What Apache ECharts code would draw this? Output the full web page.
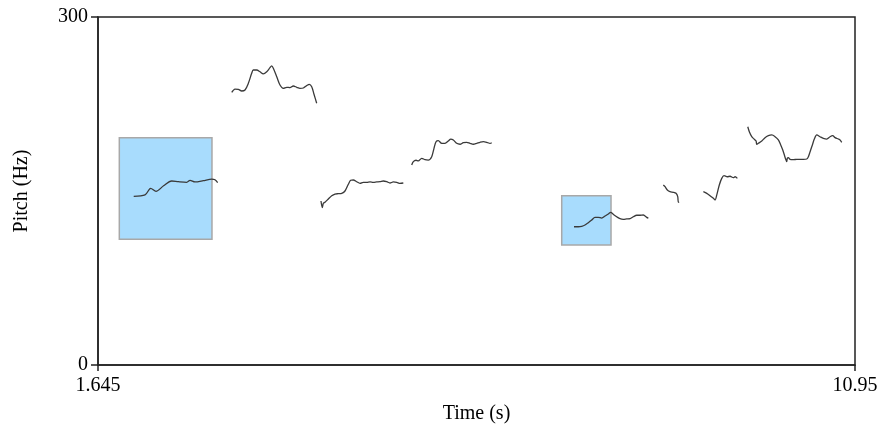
<!DOCTYPE html>
<html>
<head>
<meta charset="utf-8">
<script src="https://cdn.jsdelivr.net/npm/echarts@6/dist/echarts.min.js"></script>
<style>
html,body{margin:0;padding:0;background:#fff;}
#chart{width:883px;height:425px;}
</style>
</head>
<body>
<div id="chart"></div>
<script>
// Axis ranges and tick labels
const xRange = [1.645, 10.95];
const yRange = [0, 300];
const xTickLabels = ['1.645', '10.95'];
const yTickLabels = ['0', '300'];
const xTitle = 'Time (s)';
const yTitle = 'Pitch (Hz)';

// Highlighted regions: [tStart, tEnd, fLow, fHigh]
const boxes = [
  [1.907, 3.046, 108.4, 195.9],
  [7.345, 7.951, 103.4, 146.0]
];

// Pitch contours: [time (s), pitch (Hz)]
const contour1 = [[2.084,145.4],[2.223,146.6],[2.293,152.3],[2.358,149.7],[2.451,154.5],[2.551,158.6],[2.632,158.0],[2.735,157.5],[2.776,159.2],[2.837,157.8],[2.939,158.9],[3.043,160.3],[3.083,159.7],[3.116,157.2]];
const contour2 = [[3.289,235.1],[3.329,237.9],[3.370,237.7],[3.411,236.2],[3.452,237.1],[3.493,242.8],[3.534,251.5],[3.554,254.3],[3.596,254.3],[3.636,252.8],[3.677,250.9],[3.719,252.8],[3.759,256.3],[3.780,257.8],[3.800,255.8],[3.842,248.5],[3.882,241.4],[3.923,238.5],[3.965,239.4],[4.005,239.1],[4.046,240.5],[4.088,239.4],[4.128,238.5],[4.169,238.8],[4.210,240.8],[4.242,242.0],[4.272,239.9],[4.300,233.4],[4.333,225.6]];
const contour3 = [[4.386,141.4],[4.402,135.6],[4.415,139.4],[4.435,140.3],[4.476,143.1],[4.518,145.9],[4.558,147.4],[4.599,147.7],[4.641,148.0],[4.681,150.0],[4.722,155.8],[4.751,159.2],[4.783,159.5],[4.825,158.0],[4.866,156.6],[4.906,157.5],[4.948,157.5],[4.989,157.8],[5.029,157.5],[5.071,157.8],[5.111,158.0],[5.152,158.6],[5.194,158.0],[5.234,156.9],[5.275,157.8],[5.317,157.5],[5.357,156.6],[5.398,156.9]];
const contour4 = [[5.501,172.4],[5.521,175.3],[5.554,176.5],[5.582,175.9],[5.624,178.2],[5.665,177.0],[5.705,176.7],[5.747,179.6],[5.775,186.8],[5.800,192.5],[5.828,193.4],[5.870,191.1],[5.910,191.1],[5.951,193.1],[5.981,194.8],[6.013,194.0],[6.054,191.1],[6.095,190.3],[6.135,191.6],[6.177,192.0],[6.218,191.1],[6.258,190.3],[6.300,191.1],[6.341,192.0],[6.381,192.5],[6.423,192.0],[6.464,191.1],[6.485,191.6]];
const contour5 = [[7.496,119.2],[7.549,119.2],[7.591,119.6],[7.631,120.7],[7.672,122.7],[7.714,125.0],[7.754,127.3],[7.795,127.3],[7.837,126.7],[7.877,128.4],[7.918,130.2],[7.947,131.6],[7.979,129.9],[8.021,127.8],[8.062,126.1],[8.102,125.6],[8.144,125.9],[8.185,126.1],[8.225,127.8],[8.267,129.1],[8.308,129.1],[8.348,129.3],[8.390,127.3],[8.410,126.5]];
const contour6 = [[8.594,155.2],[8.615,153.7],[8.643,150.9],[8.676,149.4],[8.717,148.9],[8.750,148.0],[8.771,145.1],[8.778,140.3],[8.787,140.8]];
const contour7 = [[9.086,149.4],[9.128,148.0],[9.168,145.9],[9.209,143.7],[9.230,142.2],[9.251,146.6],[9.282,155.2],[9.312,160.9],[9.340,163.2],[9.381,162.3],[9.414,162.7],[9.455,161.5],[9.476,162.3],[9.504,160.9]];
const contour8 = [[9.632,205.4],[9.651,201.1],[9.681,196.8],[9.709,194.8],[9.734,193.1],[9.742,190.3],[9.762,191.1],[9.804,193.1],[9.844,196.0],[9.885,197.7],[9.927,198.3],[9.967,196.8],[10.008,194.0],[10.037,189.7],[10.062,185.3],[10.082,181.0],[10.098,177.3],[10.111,175.3],[10.118,178.2],[10.131,178.7],[10.151,177.3],[10.192,177.0],[10.234,177.3],[10.274,177.3],[10.315,177.3],[10.357,177.6],[10.377,179.6],[10.398,183.9],[10.426,189.7],[10.450,194.8],[10.480,198.3],[10.520,196.8],[10.561,195.4],[10.603,194.8],[10.643,196.8],[10.676,197.7],[10.705,196.0],[10.745,194.8],[10.766,194.0],[10.787,192.0]];

const contours = [contour1, contour2, contour3, contour4, contour5, contour6, contour7, contour8];

const font = '"Liberation Serif","Times New Roman",serif';
const chart = echarts.init(document.getElementById('chart'), null, {renderer: 'canvas'});

const series = [];
series.push({
  type: 'line',
  data: [],
  z: 1,
  silent: true,
  markArea: {
    silent: true,
    itemStyle: {color: '#a8dcfd', borderColor: '#a8a8a8', borderWidth: 1.5},
    data: boxes.map(b => [{xAxis: b[0], yAxis: b[3]}, {xAxis: b[1], yAxis: b[2]}])
  }
});
contours.forEach(c => {
  series.push({
    type: 'line',
    data: c,
    showSymbol: false,
    smooth: 0.3,
    z: 3,
    silent: true,
    lineStyle: {color: '#3a3a3a', width: 1.3}
  });
});

chart.setOption({
  animation: false,
  backgroundColor: '#ffffff',
  grid: {left: 98, right: 28, top: 17, bottom: 60, containLabel: false, outerBoundsMode: 'none',
    show: true, borderColor: '#222', borderWidth: 1.5, backgroundColor: 'transparent'},
  xAxis: {
    type: 'value',
    min: xRange[0], max: xRange[1],
    name: xTitle, nameLocation: 'middle', nameGap: 39,
    nameTextStyle: {fontFamily: font, fontSize: 20, color: '#000'},
    axisLine: {show: true, onZero: false, lineStyle: {color: '#222', width: 1.5}},
    axisTick: {show: true, inside: false, length: 6, customValues: xRange, lineStyle: {color: '#222', width: 1.5}},
    axisLabel: {show: true, customValues: xRange, margin: 11, fontFamily: font, fontSize: 20, color: '#000',
      formatter: v => (Math.abs(v - xRange[0]) < 1e-6 ? xTickLabels[0] : xTickLabels[1])},
    splitLine: {show: false}
  },
  yAxis: {
    type: 'value',
    min: yRange[0], max: yRange[1], interval: 300,
    name: yTitle, nameLocation: 'middle', nameGap: 66,
    nameTextStyle: {fontFamily: font, fontSize: 20, color: '#000'},
    axisLine: {show: true, onZero: false, lineStyle: {color: '#222', width: 1.5}},
    axisTick: {show: true, inside: false, length: 7, lineStyle: {color: '#222', width: 1.5}},
    axisLabel: {show: true, margin: 10, fontFamily: font, fontSize: 20, color: '#000',
      formatter: v => (v === 0 ? yTickLabels[0] : yTickLabels[1])},
    splitLine: {show: false}
  },
  series: series
});
</script>
</body>
</html>
